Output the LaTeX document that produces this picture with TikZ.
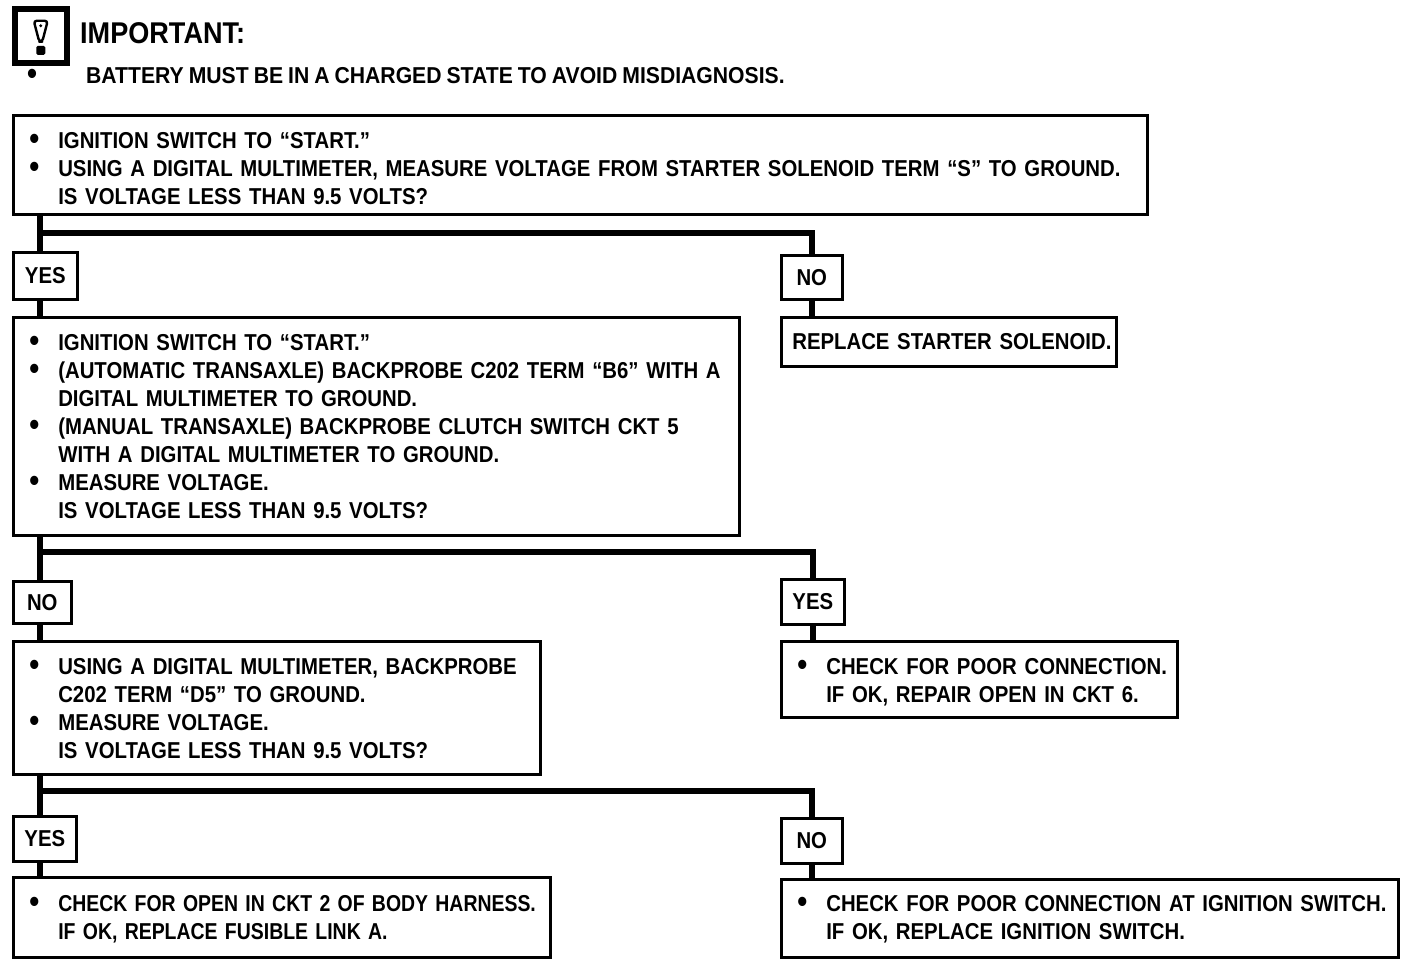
\documentclass[tikz,border=0pt]{standalone}
\usepackage{fontspec}
\newfontfamily\mf{Liberation Sans}[FakeStretch=0.885,WordSpace=0.85]
\newcommand\bul{\makebox[29pt][l]{\raisebox{-1.5pt}{\scalebox{1.4}{•}}}}
\newcommand\ind{\hspace*{29pt}}
\newcommand\fst[1][23pt]{\rule{0pt}{#1}}
\newcommand\tline[1]{\mbox{#1}}
\hyphenpenalty=10000
\exhyphenpenalty=10000
\lefthyphenmin=62
\begin{document}
\begin{tikzpicture}[x=1pt,y=-1pt,
  txt/.style={font=\mf\bfseries\fontsize{23}{28}\selectfont},
  box/.style={txt, draw, line width=2.6pt, anchor=north west, inner ysep=0pt, inner xsep=16pt, align=left},
  lab/.style={txt, draw, line width=2.6pt, anchor=north west, inner sep=0pt, align=center},
  conn/.style={line width=6pt}]
\fill[white] (0,0) rectangle (1408,964);
\useasboundingbox (0,0) rectangle (1408,964);
% header
\node[draw, line width=5.5pt, minimum width=52, minimum height=54, anchor=north west, inner sep=0pt] (icon) at (12,6) {};
\begin{scope}[shift={(icon.center)}]
\draw[line width=2.4pt, line join=round, rounded corners=3pt] (-7,-15) -- (7,-15) -- (1.5,6) -- (-1.5,6) -- cycle;
\fill (0,-10) circle (1.6);
\fill[rounded corners=1.5pt] (-4.5,10) rectangle (4.5,19);
\end{scope}
\node[anchor=west, inner sep=0pt, font=\mf\bfseries\fontsize{30}{34}\selectfont] (imp) at (80,33) {\scalebox{1.02}[1]{IMPORTANT:}};
\node[txt, anchor=west, inner sep=0pt] (bat) at (27,76) {\makebox[59pt][l]{\raisebox{-1.5pt}{\scalebox{1.4}{•}}}\scalebox{1.04}[1]{BATTERY MUST BE IN A CHARGED STATE TO AVOID MISDIAGNOSIS.}};
% boxes
\node[box, text width=1102, minimum height=99] (b1) at (12,114) {\fst\bul\tline{IGNITION SWITCH TO “START.”}\\\bul\tline{USING A DIGITAL MULTIMETER, MEASURE VOLTAGE FROM STARTER SOLENOID TERM “S” TO GROUND.}\\\ind\tline{IS VOLTAGE LESS THAN 9.5 VOLTS?}};
\node[lab, minimum width=64, minimum height=47] (y1) at (12,251) {YES};
\node[lab, minimum width=61, minimum height=44] (n1) at (780,254) {NO};
\node[box, text width=694, minimum height=218] (b2) at (12,316) {\bul\tline{IGNITION SWITCH TO “START.”}\\\bul\tline{(AUTOMATIC TRANSAXLE) BACKPROBE C202 TERM “B6” WITH A}\\\ind\tline{DIGITAL MULTIMETER TO GROUND.}\\\bul\tline{(MANUAL TRANSAXLE) BACKPROBE CLUTCH SWITCH CKT 5}\\\ind\tline{WITH A DIGITAL MULTIMETER TO GROUND.}\\\bul\tline{MEASURE VOLTAGE.}\\\ind\tline{IS VOLTAGE LESS THAN 9.5 VOLTS?}};
\node[box, inner xsep=11pt, text width=313, minimum height=49] (r1) at (780,316) {\tline{REPLACE STARTER SOLENOID.}};
\node[lab, minimum width=58, minimum height=42] (n2) at (12,580) {NO};
\node[lab, minimum width=63, minimum height=45] (y2) at (780,578) {YES};
\node[box, text width=495, minimum height=133] (b3) at (12,640) {\fst[17pt]\bul\tline{USING A DIGITAL MULTIMETER, BACKPROBE}\\\ind\tline{C202 TERM “D5” TO GROUND.}\\\bul\tline{MEASURE VOLTAGE.}\\\ind\tline{IS VOLTAGE LESS THAN 9.5 VOLTS?}};
\node[box, text width=364, minimum height=76] (r2) at (780,640) {\fst[21pt]\bul\tline{CHECK FOR POOR CONNECTION.}\\\ind\tline{IF OK, REPAIR OPEN IN CKT 6.}};
\node[lab, minimum width=63, minimum height=45] (y3) at (12,815) {YES};
\node[lab, minimum width=61, minimum height=45] (n3) at (780,817) {NO};
\node[box, text width=505, minimum height=80] (b4) at (12,876) {\fst[19pt]\bul\scalebox{0.955}[1]{CHECK FOR OPEN IN CKT 2 OF BODY HARNESS.}\\\ind\scalebox{0.955}[1]{IF OK, REPLACE FUSIBLE LINK A.}};
\node[box, text width=585, minimum height=78] (r3) at (780,878) {\fst[17pt]\bul\tline{CHECK FOR POOR CONNECTION AT IGNITION SWITCH.}\\\ind\tline{IF OK, REPLACE IGNITION SWITCH.}};
% connectors
\coordinate (j1) at (40,233);
\coordinate (j2) at (40,552);
\coordinate (j3) at (40,791);
\draw[conn] (b1.south -| j1) -- (y1.north -| j1);
\draw[conn] (j1) -| (n1.north);
\draw[conn] (y1.south -| j1) -- (b2.north -| j1);
\draw[conn] (n1.south) -- (r1.north -| n1.south);
\draw[conn] (b2.south -| j2) -- (n2.north -| j2);
\draw[conn] (j2) -| (y2.north);
\draw[conn] (n2.south -| j2) -- (b3.north -| j2);
\draw[conn] (y2.south) -- (r2.north -| y2.south);
\draw[conn] (b3.south -| j3) -- (y3.north -| j3);
\draw[conn] (j3) -| (n3.north);
\draw[conn] (y3.south -| j3) -- (b4.north -| j3);
\draw[conn] (n3.south) -- (r3.north -| n3.south);
\end{tikzpicture}
\end{document}
